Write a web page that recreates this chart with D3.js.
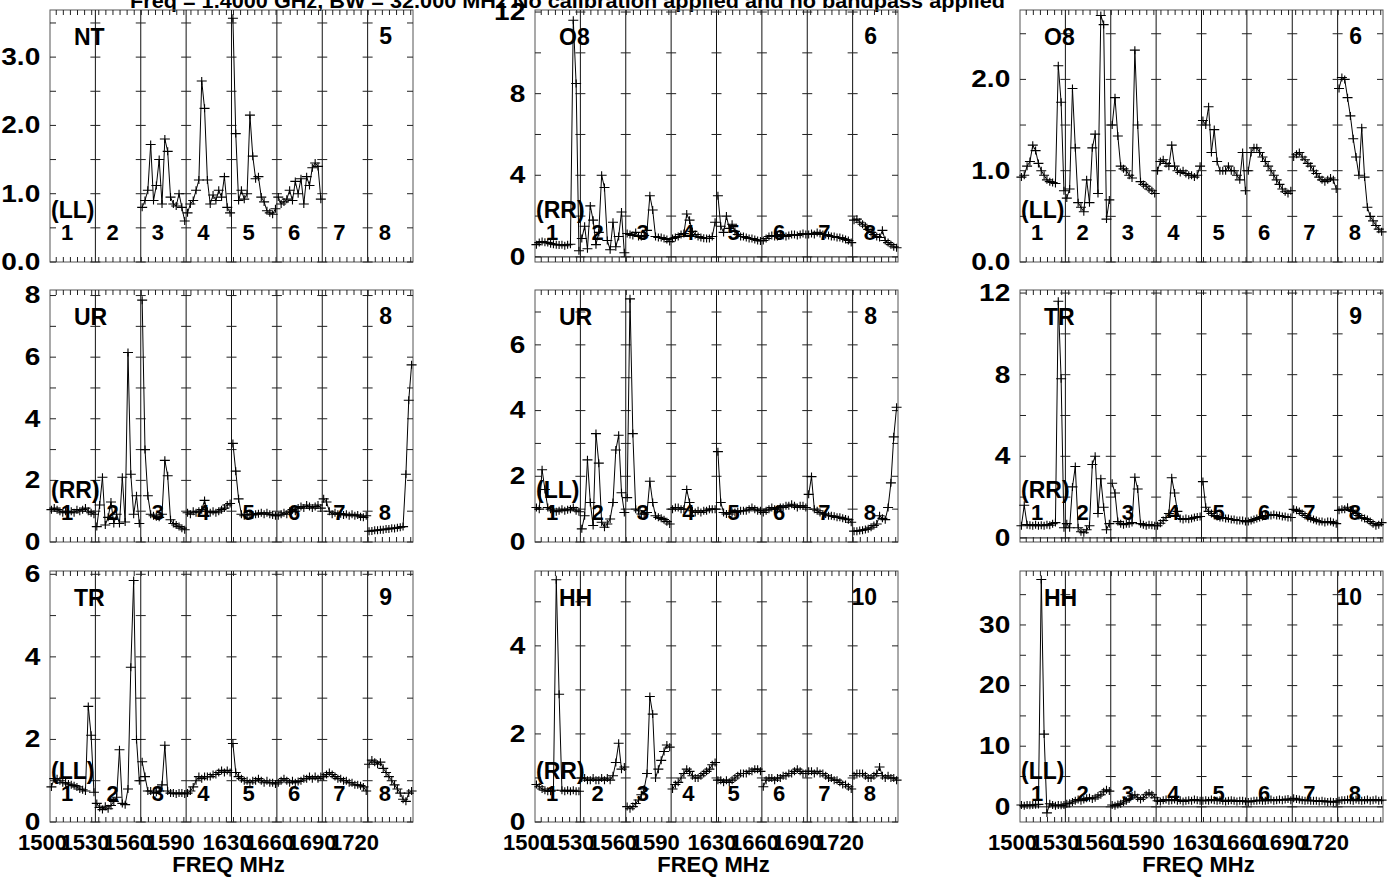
<!DOCTYPE html>
<html><head><meta charset="utf-8">
<script src="https://cdn.jsdelivr.net/npm/d3@7/dist/d3.min.js"></script>
<style>body{margin:0;background:#fff}</style>
</head><body>
<script>
// ---------- data ----------
const IF_START = 1505.6, IF_BW = 32, N_IF = 8, N_CH = 16;
const freqLabels = [1500,1530,1560,1590,1630,1660,1690,1720];
const ifNumbers = ["1","2","3","4","5","6","7","8"];
const titleText = "Freq =  1.4000 GHz, BW =  32.000 MHz   No calibration applied and no bandpass applied";
const sources = ["NT","O8","O8","UR","UR","TR","TR","HH","HH"];
const antNums = ["5","6","6","8","8","9","9","10","10"];
const pols = ["(LL)","(RR)","(LL)","(RR)","(LL)","(RR)","(LL)","(RR)","(LL)"];
const yMins = [0,-0.25,0,0,0,-0.2,0,0,-2.5];
const yMaxs = [3.69,12.1,2.76,8.18,7.67,12.15,6.08,5.7,38.9];
const yTickSteps = [0.5,2,0.5,1,1,2,1,1,5];
const yLabelSteps = [1,4,1,2,2,4,2,2,10];
const yLabelFmt = [".1f","d",".1f","d","d","d","d","d","d"];

const ampNT_LL = [
 null,
 null,
 [0.8,0.9,1.05,1.72,0.9,1.12,1.5,0.85,1.8,1.62,0.95,0.85,0.82,1.0,0.8,0.6],
 [0.72,0.85,0.9,1.05,1.2,2.65,2.25,1.2,0.85,0.98,0.9,1.05,0.95,1.25,0.8,0.72],
 [3.57,1.88,0.9,1.05,0.92,1.0,2.15,1.55,1.22,1.25,0.95,0.88,0.75,0.72,0.7,0.78],
 [0.95,0.85,0.88,0.92,1.05,0.9,1.18,1.0,1.22,0.85,1.25,1.12,1.38,1.45,1.4,0.92],
 null,
 null
];
const ampO8_RR = [
 [0.6,0.7,0.75,0.72,0.7,0.65,0.62,0.6,0.58,0.6,0.55,0.6,0.62,11.6,8.5,0.3],
 [0.9,1.5,0.4,2.5,1.8,0.6,1.2,4.0,3.4,0.8,0.35,1.7,0.5,1.0,2.2,0.2],
 [1.15,1.1,1.05,1.2,1.0,1.0,1.05,1.3,3.0,2.3,1.0,0.95,0.95,0.9,0.85,0.75],
 [0.9,0.95,1.0,1.1,1.15,2.1,1.8,1.25,1.1,1.0,0.95,0.92,0.9,0.9,1.0,1.7],
 [3.0,1.5,1.2,2.0,1.4,1.6,1.25,1.1,1.0,1.0,0.95,0.9,0.9,0.85,0.8,0.78],
 [0.8,0.9,1.0,1.05,1.0,1.0,1.1,1.05,1.0,1.05,1.1,1.1,1.05,1.1,1.15,1.1],
 [1.1,1.15,1.1,1.2,1.15,1.1,1.1,1.05,1.0,1.0,0.95,0.95,0.9,0.85,0.8,0.7],
 [1.8,1.85,1.7,1.6,1.5,1.35,1.2,1.1,1.0,0.95,1.3,0.8,0.7,0.6,0.5,0.45]
];
const ampO8_LL = [
 [0.93,0.95,1.05,1.1,1.28,1.22,1.08,1.0,0.95,0.9,0.88,0.87,0.86,2.15,1.75,0.78],
 [0.7,0.8,1.9,1.25,0.65,0.6,0.55,0.9,0.65,1.25,1.4,0.75,2.7,2.6,0.47,0.68],
 [1.5,1.8,1.38,1.05,1.02,1.0,0.95,0.92,2.32,1.5,0.88,0.85,0.83,0.8,0.78,0.75],
 [1.0,1.1,1.12,1.08,1.05,1.28,1.05,1.0,0.98,1.0,0.97,0.95,0.95,0.93,0.95,1.05],
 [1.55,1.5,1.7,1.2,1.45,1.1,1.0,1.0,1.0,1.05,1.0,1.0,0.95,0.9,1.2,0.78],
 [1.0,1.2,1.25,1.25,1.2,1.15,1.1,1.05,1.0,0.95,0.9,0.85,0.8,0.77,0.75,0.78],
 [1.15,1.18,1.2,1.15,1.12,1.08,1.05,1.0,0.97,0.93,0.9,0.88,0.9,0.92,0.9,0.8],
 [1.9,2.02,2.0,1.8,1.6,1.35,1.15,0.95,1.47,0.93,0.6,0.5,0.45,0.4,0.36,0.33]
];
const ampUR_RR = [
 [1.05,1.1,1.05,1.0,0.95,1.0,0.95,1.0,0.95,1.05,1.0,1.05,1.1,1.0,0.95,0.9],
 [0.5,1.2,2.1,0.55,0.8,1.3,0.6,0.9,0.6,2.1,0.65,6.15,2.2,0.9,1.5,0.6],
 [7.85,3.0,1.5,0.9,0.85,0.82,0.8,0.9,2.65,2.15,0.72,0.6,0.55,0.5,0.45,0.4],
 [0.95,0.9,1.0,0.95,1.0,1.05,1.35,1.0,0.95,1.0,0.95,1.0,1.05,1.1,1.2,1.25],
 [3.2,2.3,1.4,0.9,0.85,0.9,0.9,0.88,0.9,0.92,0.95,0.9,0.95,0.9,0.88,0.85],
 [0.85,0.9,0.95,0.9,1.0,1.05,1.0,1.1,1.15,1.1,1.2,1.15,1.1,1.15,1.2,1.1],
 [1.4,1.3,1.0,0.9,0.95,0.9,0.92,0.88,0.9,0.85,0.9,0.85,0.88,0.82,0.8,0.85],
 [0.35,0.36,0.38,0.38,0.4,0.4,0.42,0.42,0.45,0.44,0.46,0.48,0.5,2.2,4.6,5.75]
];
const ampUR_LL = [
 [1.05,1.0,2.2,1.6,1.05,1.0,0.95,0.92,0.95,1.0,0.95,0.98,1.0,1.05,0.95,0.92],
 [0.4,0.8,2.5,1.2,0.5,3.3,2.4,0.6,0.45,0.55,0.7,1.2,2.8,3.25,1.5,0.9],
 [1.35,7.4,3.3,1.0,0.95,0.85,0.85,0.9,1.85,1.2,0.8,0.75,0.72,0.68,0.62,0.55],
 [1.0,1.05,1.05,1.0,1.0,1.6,1.2,0.95,0.9,0.95,0.9,0.95,0.95,1.0,1.0,1.0],
 [2.75,1.2,0.9,0.85,0.85,0.9,0.9,0.92,0.95,0.95,0.95,1.0,1.05,1.0,0.95,0.95],
 [0.9,0.95,1.0,1.05,1.0,1.0,1.05,1.05,1.1,1.1,1.15,1.1,1.05,1.1,1.1,1.05],
 [1.45,1.99,1.0,0.95,0.9,0.85,0.85,0.8,0.8,0.78,0.75,0.75,0.72,0.7,0.68,0.6],
 [0.33,0.33,0.35,0.36,0.38,0.4,0.45,0.5,0.55,0.8,0.72,0.68,1.05,1.8,3.2,4.1]
];
const ampTR_RR = [
 [0.6,1.6,0.65,0.62,0.6,0.65,0.6,0.62,0.6,0.65,0.62,0.7,0.75,11.6,7.8,0.5],
 [0.7,0.5,2.5,3.5,0.5,0.3,0.25,0.4,0.6,3.6,4.0,1.2,2.9,1.5,0.4,0.7],
 [2.68,2.2,0.8,0.7,0.65,0.7,0.7,0.75,2.97,2.4,0.7,0.65,0.6,0.65,0.62,0.6],
 [0.6,0.72,0.85,1.0,1.2,2.95,2.2,1.3,0.95,0.9,0.95,0.92,0.95,1.0,1.02,1.05],
 [2.76,1.5,1.3,1.2,1.1,1.05,1.0,1.0,0.95,0.95,0.9,0.9,0.85,0.85,0.85,0.8],
 [0.8,0.85,0.9,0.95,1.0,1.05,1.1,1.1,1.1,1.15,1.1,1.1,1.05,1.05,1.0,1.0],
 [1.4,1.35,1.3,1.2,1.1,1.0,0.95,0.9,0.85,0.8,0.8,0.75,0.8,0.8,0.75,0.7],
 [1.35,1.4,1.4,1.5,1.35,1.3,1.2,1.1,1.0,0.95,0.9,0.8,0.7,0.6,0.65,0.75]
];
const ampTR_LL = [
 [0.85,1.05,1.05,1.0,0.95,0.95,0.92,0.9,0.88,0.85,0.8,0.78,0.75,2.8,2.1,0.72],
 [0.45,0.35,0.3,0.38,0.32,0.4,0.5,0.6,1.75,0.45,0.42,0.8,3.75,5.85,2.0,1.0],
 [1.46,1.1,0.75,0.75,0.7,0.72,0.75,0.9,1.86,0.75,0.7,0.7,0.68,0.7,0.7,0.68],
 [0.7,0.75,0.85,1.0,1.1,1.05,1.1,1.1,1.1,1.15,1.15,1.2,1.25,1.2,1.25,1.2],
 [1.9,1.2,1.1,1.05,1.0,1.0,0.95,1.0,1.0,1.05,1.0,0.95,1.0,0.95,0.95,0.92],
 [0.95,1.0,1.05,1.0,0.95,1.0,0.95,0.98,1.0,1.05,1.05,1.1,1.05,1.1,1.05,1.1],
 [1.1,1.15,1.2,1.15,1.1,1.05,1.05,1.0,1.0,0.95,0.95,0.9,0.9,0.88,0.85,0.75],
 [1.4,1.5,1.45,1.4,1.45,1.3,1.2,1.1,1.0,0.9,0.8,0.7,0.55,0.5,0.7,0.75]
];
const ampHH_RR = [
 [0.85,0.8,0.75,0.72,0.7,0.7,0.72,5.5,2.9,0.72,0.7,0.72,0.7,0.72,0.7,0.7],
 [1.0,1.0,0.95,0.95,1.0,0.95,0.95,1.0,0.95,1.0,0.95,1.05,1.35,1.79,1.2,1.25],
 [0.35,0.3,0.35,0.42,0.5,0.62,0.75,1.1,2.85,2.45,1.0,1.2,1.4,1.6,1.75,1.7],
 [0.75,0.85,0.9,1.0,1.1,1.2,1.15,1.05,1.0,1.0,1.05,1.1,1.15,1.2,1.3,1.35],
 [0.95,0.95,0.9,0.95,0.9,0.95,1.0,1.05,1.1,1.1,1.1,1.15,1.15,1.2,1.2,1.15],
 [0.8,0.95,1.0,1.0,0.95,1.0,1.0,1.05,1.05,1.1,1.1,1.15,1.2,1.15,1.1,1.1],
 [1.15,1.15,1.1,1.15,1.1,1.1,1.05,1.0,1.0,0.95,0.95,0.9,0.85,0.85,0.8,0.75],
 [1.05,1.1,1.1,1.1,1.05,1.0,1.0,1.05,1.1,1.25,1.05,1.0,1.05,1.0,1.0,0.95]
];
const ampHH_LL = [
 [0.3,0.2,0.3,0.25,0.3,0.35,0.4,37.5,12.0,-1.0,0.5,0.3,0.2,0.3,0.25,0.3],
 [0.5,0.6,0.8,1.0,1.2,1.0,1.2,1.4,1.5,1.3,1.5,1.8,2.0,2.5,2.8,2.6],
 [0.3,0.2,0.4,0.5,0.8,1.0,1.3,1.8,2.0,1.5,1.2,1.5,2.0,2.3,2.0,1.5],
 [1.0,0.9,1.1,1.2,1.0,1.1,1.2,1.0,1.1,0.9,1.0,1.1,1.0,1.2,1.1,1.0],
 [1.0,1.1,1.0,1.2,1.1,1.0,1.1,1.0,0.9,1.0,1.1,1.0,0.9,1.0,1.0,0.9],
 [0.8,0.9,1.0,1.0,1.1,1.0,1.0,1.1,1.2,1.0,1.1,1.2,1.1,1.2,1.3,1.1],
 [1.4,1.3,1.2,1.1,1.0,1.1,1.0,1.0,1.0,0.9,1.0,0.9,0.8,0.9,0.8,0.8],
 [1.0,1.1,1.1,1.2,1.1,1.0,1.2,1.1,1.0,1.1,1.2,1.0,1.1,1.2,1.0,1.1]
];
const panelData = [ampNT_LL, ampO8_RR, ampO8_LL, ampUR_RR, ampUR_LL, ampTR_RR, ampTR_LL, ampHH_RR, ampHH_LL];

// ---------- layout ----------
const W = 1395, H = 880;
const colX = [50, 535, 1020], rowY = [10, 290, 571], plotW = 363, plotH = [252, 252, 251];
const FONT = "'Liberation Sans', Arial, Helvetica, sans-serif";
const FS = 23;

const svg = d3.select("body").append("svg").attr("width", W).attr("height", H)
  .style("font-family", FONT).style("font-weight", "bold");
svg.append("rect").attr("width", W).attr("height", H).attr("fill", "#fff");

svg.append("text").attr("x", 130).attr("y", 8).attr("textLength", 875).attr("lengthAdjust", "spacingAndGlyphs")
  .attr("font-size", 20).attr("fill", "#000").text(titleText);

const crossPath = "M-5,0H5M0,-4V4";

panelData.forEach((data, i) => {
  const col = i % 3, row = Math.floor(i / 3);
  const x0 = colX[col], y0 = rowY[row], h = plotH[row];
  const x = d3.scaleLinear().domain([IF_START, IF_START + N_IF * IF_BW]).range([x0, x0 + plotW]);
  const y = d3.scaleLinear().domain([yMins[i], yMaxs[i]]).range([y0 + h, y0]);
  const g = svg.append("g");

  // frame
  g.append("rect").attr("x", x0).attr("y", y0).attr("width", plotW).attr("height", h)
    .attr("fill", "none").attr("stroke", "#555").attr("stroke-width", 1);

  // IF boundaries
  const bounds = d3.range(1, N_IF).map(k => IF_START + k * IF_BW);
  g.selectAll(".ifb").data(bounds).join("line")
    .attr("x1", d => x(d)).attr("x2", d => x(d)).attr("y1", y0).attr("y2", y0 + h)
    .attr("stroke", "#111").attr("stroke-width", 1);

  // zero line
  if (yMins[i] < 0) {
    g.append("line").attr("x1", x0).attr("x2", x0 + plotW).attr("y1", y(0)).attr("y2", y(0))
      .attr("stroke", "#111").attr("stroke-width", 1);
  }

  // y tick marks
  const step = yTickSteps[i];
  const yt = d3.range(Math.ceil(yMins[i] / step - 1e-9), Math.floor(yMaxs[i] / step + 1e-9) + 1).map(k => k * step);
  yt.forEach(v => {
    const yy = y(v);
    g.append("line").attr("x1", x0).attr("x2", x0 + 6).attr("y1", yy).attr("y2", yy).attr("stroke", "#222");
    g.append("line").attr("x1", x0 + plotW - 6).attr("x2", x0 + plotW).attr("y1", yy).attr("y2", yy).attr("stroke", "#222");
    bounds.forEach(b => {
      g.append("line").attr("x1", x(b) - 5).attr("x2", x(b) + 5).attr("y1", yy).attr("y2", yy).attr("stroke", "#222");
    });
  });

  // x minor ticks every 5 MHz
  const xt = d3.range(1510, IF_START + N_IF * IF_BW, 5);
  xt.forEach(f => {
    g.append("line").attr("x1", x(f)).attr("x2", x(f)).attr("y1", y0).attr("y2", y0 + 5).attr("stroke", "#222");
    g.append("line").attr("x1", x(f)).attr("x2", x(f)).attr("y1", y0 + h - 5).attr("y2", y0 + h).attr("stroke", "#222");
  });

  // y labels
  const ls = yLabelSteps[i];
  const ylv = d3.range(Math.ceil(yMins[i] / ls - 1e-9), Math.floor(yMaxs[i] / ls + 1e-9) + 1).map(k => k * ls);
  const yAxis = g.append("g").attr("transform", `translate(${x0},0)`)
    .call(d3.axisLeft(y).tickValues(ylv).tickSize(0).tickPadding(8).tickFormat(d3.format(yLabelFmt[i])));
  yAxis.select(".domain").remove();
  yAxis.selectAll("text").attr("font-size", 23).attr("font-family", FONT).attr("font-weight", "bold")
    .attr("fill", "#000").attr("transform", "scale(1.22,1)");

  // x labels on bottom row
  if (row === 2) {
    const xAxis = g.append("g").attr("transform", `translate(0,${y0 + h})`)
      .call(d3.axisBottom(x).tickValues(freqLabels).tickSize(0).tickPadding(12).tickFormat(d3.format("d")));
    xAxis.select(".domain").remove();
    xAxis.selectAll("text").attr("font-size", 22).attr("font-family", FONT).attr("font-weight", "bold").attr("fill", "#000");
    g.append("text").attr("x", x0 + plotW / 2 - 3).attr("y", y0 + h + 50).attr("text-anchor", "middle")
      .attr("font-size", 22).attr("fill", "#000").text("FREQ MHz");
  }

  // panel labels
  g.append("text").attr("x", x0 + 24).attr("y", y0 + 35).attr("font-size", FS).attr("fill", "#000").text(sources[i]);
  g.append("text").attr("x", x0 + plotW - 21).attr("y", y0 + 34).attr("text-anchor", "end").attr("font-size", FS).attr("fill", "#000").text(antNums[i]);
  g.append("text").attr("x", x0 + 1).attr("y", y0 + 208).attr("font-size", FS).attr("fill", "#000").text(pols[i]);
  ifNumbers.forEach((n, k) => {
    g.append("text").attr("x", x(IF_START + k * IF_BW) + 11).attr("y", y0 + 230)
      .attr("font-size", 22).attr("fill", "#000").text(n);
  });

  // data
  const line = d3.line().x(d => x(d.f)).y(d => y(d.v));
  data.forEach((vals, k) => {
    if (!vals) return;
    const pts = vals.map((v, c) => ({ f: IF_START + k * IF_BW + (c + 0.5) * IF_BW / N_CH, v }));
    g.append("path").attr("d", line(pts)).attr("fill", "none").attr("stroke", "#000").attr("stroke-width", 1);
    g.selectAll(null).data(pts).join("path")
      .attr("transform", d => `translate(${x(d.f)},${y(d.v)})`)
      .attr("d", crossPath).attr("stroke", "#000").attr("stroke-width", 1.1).attr("fill", "none");
  });
});
</script>
</body></html>
